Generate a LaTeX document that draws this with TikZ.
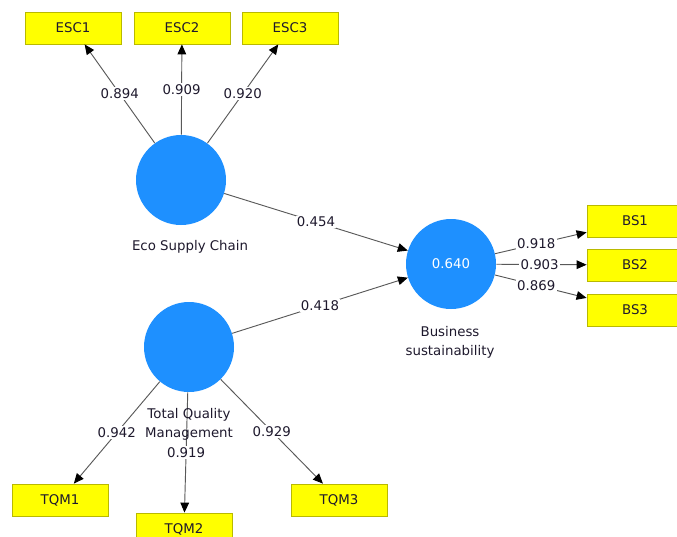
\documentclass[tikz,border=0pt]{standalone}
\usepackage{fontspec}
\setmainfont{DejaVu Sans}
\usetikzlibrary{arrows.meta, positioning}

\definecolor{lvblue}{RGB}{30,144,255}
\definecolor{mvyellow}{RGB}{255,255,0}
\definecolor{mvedge}{RGB}{185,185,0}
\definecolor{txtcol}{RGB}{30,25,45}

\begin{document}
\begin{tikzpicture}[x=0.75pt,y=-0.75pt,
  font=\fontsize{10}{14.5}\selectfont, text=txtcol,
  latent/.style={circle, fill=lvblue, minimum size=67.5pt, inner sep=0pt, text=white},
  indicator/.style={rectangle, fill=mvyellow, draw=mvedge, line width=0.6pt, minimum width=72pt, minimum height=24pt, inner sep=0pt},
  link/.style={draw=black!65, line width=0.7pt, -{Triangle[length=7.5pt,width=6.5pt,color=black]}},
  loading/.style={fill=white, inner sep=1pt}]
\clip (0,0) rectangle (677,536);

% latent variables
\node [latent] (esc) at (181,180) {};
\node [latent] (bs) at (451,264) {0.640};
\node [latent] (tqm) at (189,347) {};

% indicators
\node [indicator] (esc1) at (73,28) {ESC1};
\node [indicator] (esc2) at (182,28) {ESC2};
\node [indicator] (esc3) at (290,28) {ESC3};
\node [indicator] (bs1) at (635,221) {BS1};
\node [indicator] (bs2) at (635,265) {BS2};
\node [indicator] (bs3) at (635,310) {BS3};
\node [indicator] (tqm1) at (60,500) {TQM1};
\node [indicator] (tqm2) at (184,529) {TQM2};
\node [indicator] (tqm3) at (339,500) {TQM3};

% outer loadings
\draw [link] (esc) -- node [loading, pos=0.5] {0.894} (esc1);
\draw [link] (esc) -- node [loading, pos=0.5] {0.909} (esc2);
\draw [link] (esc) -- node [loading, pos=0.5] {0.920} (esc3);
\draw [link] (bs) -- node [loading, pos=0.45] {0.918} (bs1);
\draw [link] (bs) -- node [loading, pos=0.48] {0.903} (bs2);
\draw [link] (bs) -- node [loading, pos=0.45] {0.869} (bs3);
\draw [link] (tqm) -- node [loading, pos=0.5] {0.942} (tqm1);
\draw [link] (tqm) -- node [loading, pos=0.5] {0.919} (tqm2);
\draw [link] (tqm) -- node [loading, pos=0.5] {0.929} (tqm3);

% path coefficients
\draw [link] (esc) -- node [loading, pos=0.5] {0.454} (bs);
\draw [link] (tqm) -- node [loading, pos=0.5] {0.418} (bs);

% names
\node (escname) at (190,247) {Eco Supply Chain};
\node (bsname) [align=center] at (450,342) {Business\\sustainability};
\node (tqmname) [align=center] at (189,424) {Total Quality\\Management};
\end{tikzpicture}
\end{document}
